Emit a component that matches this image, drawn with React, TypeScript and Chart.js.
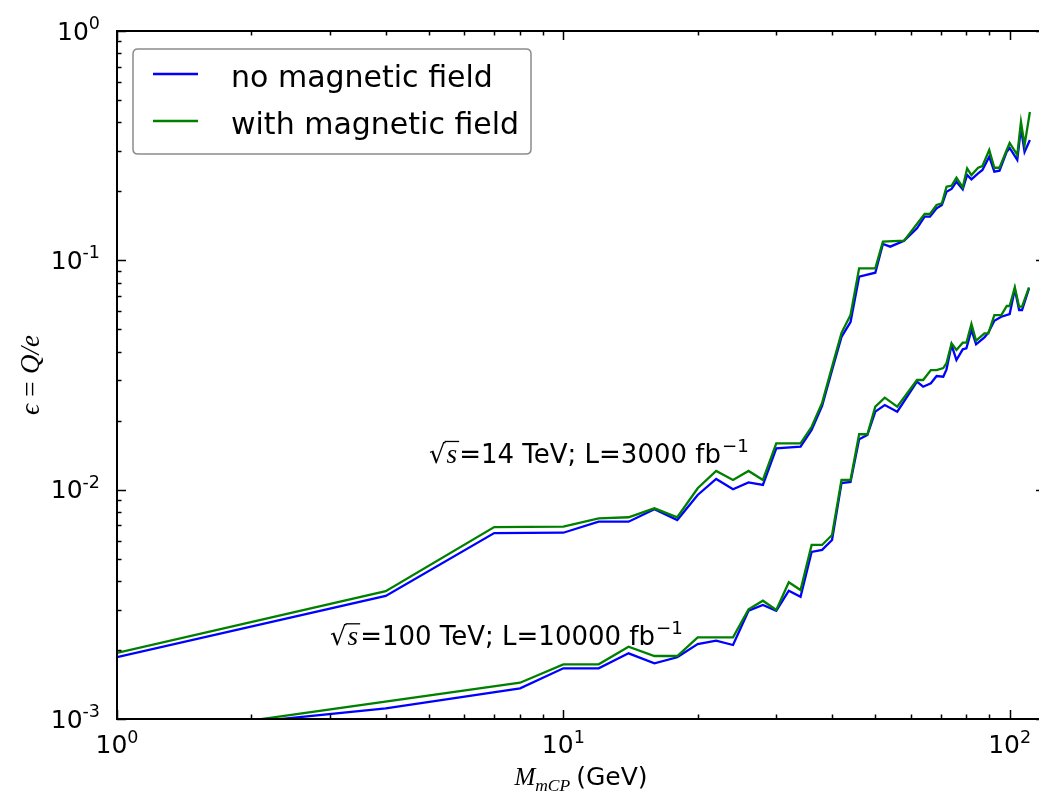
import React, { useEffect, useRef } from "react";
import { Chart, registerables } from "chart.js";

Chart.register(...registerables);

// ---------------- data ----------------
// sqrt(s) = 14 TeV, L = 3000 fb^-1
const MASS_14_NOFIELD = [1, 4, 7, 10, 12, 14, 16, 18, 20, 22, 24, 26, 28, 30, 34, 36, 38, 40, 42, 44, 46, 50, 52, 54, 58, 62, 64.5, 66.3, 68.6, 70.5, 72.2, 74.1, 76, 78.5, 80.3, 82.1, 85, 86.9, 90, 92.4, 94.9, 98.5, 100, 104, 106, 108, 111];
const EPS_14_NOFIELD = [1.86e-3, 3.44e-3, 6.47e-3, 6.49e-3, 7.25e-3, 7.25e-3, 8.21e-3, 7.37e-3, 9.48e-3, 1.113e-2, 1.004e-2, 1.076e-2, 1.048e-2, 1.515e-2, 1.539e-2, 1.82e-2, 2.32e-2, 3.32e-2, 4.63e-2, 5.38e-2, 0.0848, 0.0883, 0.1178, 0.1147, 0.1218, 0.1379, 0.155, 0.155, 0.1686, 0.1743, 0.1991, 0.2047, 0.2202, 0.204, 0.2355, 0.2256, 0.2396, 0.2476, 0.2831, 0.2434, 0.2459, 0.2977, 0.3089, 0.2739, 0.3776, 0.2968, 0.3347];
const MASS_14_FIELD = [1, 4, 7, 10, 12, 14, 16, 18, 20, 22, 24, 26, 28, 30, 34, 36, 38, 40, 42, 44, 46, 50, 52, 58, 64.5, 66.3, 68.6, 70.5, 72.2, 74.1, 76, 78.5, 80.3, 82.1, 85, 86.9, 90, 92.4, 94.9, 98.5, 100, 104, 106, 108, 111];
const EPS_14_FIELD = [1.94e-3, 3.61e-3, 6.87e-3, 6.9e-3, 7.5e-3, 7.58e-3, 8.29e-3, 7.58e-3, 1.014e-2, 1.207e-2, 1.102e-2, 1.207e-2, 1.102e-2, 1.593e-2, 1.593e-2, 1.88e-2, 2.39e-2, 3.43e-2, 4.82e-2, 5.78e-2, 0.0923, 0.0923, 0.1206, 0.1218, 0.1592, 0.1592, 0.1743, 0.1773, 0.2094, 0.2115, 0.2292, 0.2082, 0.2519, 0.2355, 0.2534, 0.2578, 0.3029, 0.2534, 0.2534, 0.3029, 0.3248, 0.288, 0.4012, 0.3183, 0.4433];

// sqrt(s) = 100 TeV, L = 10000 fb^-1
const MASS_100_NOFIELD = [2, 4, 8, 10, 12, 14, 16, 18, 20, 22, 24, 26, 28, 30, 32, 34, 36, 38, 40, 42, 44, 46, 48, 50, 52.5, 56, 62, 64, 66.6, 68.6, 71, 72.2, 74.1, 76, 78.5, 80, 82.1, 84.1, 87.8, 89.6, 92.4, 95.8, 100, 102.7, 105, 106.6, 110.5];
const EPS_100_NOFIELD = [0.97e-3, 1.113e-3, 1.361e-3, 1.664e-3, 1.664e-3, 1.934e-3, 1.749e-3, 1.858e-3, 2.123e-3, 2.195e-3, 2.102e-3, 2.966e-3, 3.142e-3, 2.966e-3, 3.625e-3, 3.41e-3, 5.35e-3, 5.46e-3, 6.03e-3, 1.069e-2, 1.08e-2, 1.658e-2, 1.731e-2, 2.188e-2, 2.339e-2, 2.188e-2, 2.956e-2, 2.812e-2, 2.909e-2, 3.13e-2, 3.109e-2, 3.347e-2, 4.273e-2, 3.676e-2, 4.093e-2, 4.134e-2, 4.968e-2, 4.304e-2, 4.617e-2, 4.835e-2, 5.453e-2, 5.676e-2, 5.834e-2, 7.474e-2, 6.072e-2, 6.072e-2, 7.55e-2];
const MASS_100_FIELD = [2, 8, 10, 12, 14, 16, 18, 20, 22, 24, 26, 28, 30, 32, 34, 36, 38, 40, 42, 44, 46, 48, 50, 52.5, 56, 62, 64, 66.6, 68.6, 71, 72.2, 74.1, 76, 78.5, 80, 82.1, 84.1, 87.8, 89.6, 92.4, 95.8, 98.5, 100, 102.7, 105, 106.6, 110.5];
const EPS_100_FIELD = [0.985e-3, 1.439e-3, 1.731e-3, 1.731e-3, 2.067e-3, 1.882e-3, 1.882e-3, 2.271e-3, 2.271e-3, 2.271e-3, 3.008e-3, 3.28e-3, 2.987e-3, 3.945e-3, 3.65e-3, 5.74e-3, 5.74e-3, 6.34e-3, 1.102e-2, 1.102e-2, 1.744e-2, 1.744e-2, 2.3e-2, 2.518e-2, 2.3e-2, 3.007e-2, 3.007e-2, 3.324e-2, 3.324e-2, 3.392e-2, 3.567e-2, 4.346e-2, 4.064e-2, 4.373e-2, 4.373e-2, 5.279e-2, 4.462e-2, 4.806e-2, 4.806e-2, 5.774e-2, 5.774e-2, 6.323e-2, 6.323e-2, 7.626e-2, 6.279e-2, 6.279e-2, 7.626e-2];

// axes / text
const X_MIN = 1;
const X_MAX = 120;
const Y_MIN = 1e-3;
const Y_MAX = 1;
const X_MAJOR_TICKS = [1, 10, 100];
const X_TICK_EXPONENTS = ["0", "1", "2"];
const Y_MAJOR_TICKS = [1e-3, 1e-2, 1e-1, 1];
const Y_TICK_EXPONENTS = ["-3", "-2", "-1", "0"];
const LEGEND_LABELS = ["no magnetic field", "with magnetic field"];
const LEGEND_COLORS = ["#0000ff", "#008000"];
const ANNOT_ENERGIES = ["14", "100"];
const ANNOT_LUMIS = ["3000", "10000"];
const ANNOT_X = [5, 3];
const ANNOT_Y = [0.0131, 0.0021];
const X_LABEL_VAR = "M";
const X_LABEL_SUB = "mCP";
const X_LABEL_UNIT = "(GeV)";
const Y_LABEL_PARTS = ["\u03f5", "=", "Q/e"];

const SANS = '"DejaVu Sans", sans-serif';
const SERIF = '"Liberation Serif", "DejaVu Serif", serif';

const toXY = (xs: number[], ys: number[]) => xs.map((x, i) => ({ x, y: ys[i] }));

function drawPower(ctx: CanvasRenderingContext2D, exp: string, x: number, y: number, size: number, align: "center" | "right") {
  ctx.textAlign = "left";
  ctx.textBaseline = "alphabetic";
  ctx.font = `${size}px ${SANS}`;
  const wb = ctx.measureText("10").width;
  const ss = size * 0.7;
  ctx.font = `${ss}px ${SANS}`;
  const we = ctx.measureText(exp).width;
  const total = wb + we;
  const left = align === "center" ? x - total / 2 : x - total;
  ctx.font = `${size}px ${SANS}`;
  ctx.fillText("10", left, y);
  ctx.font = `${ss}px ${SANS}`;
  ctx.fillText(exp, left + wb, y - size * 0.42);
}

function drawAnnot(ctx: CanvasRenderingContext2D, x: number, y: number, energy: string, lumi: string, size: number) {
  ctx.textAlign = "left";
  ctx.textBaseline = "alphabetic";
  let cx = x;
  ctx.font = `${size}px ${SANS}`;
  const rm = ctx.measureText("\u221a");
  ctx.fillText("\u221a", cx, y);
  const top = y - rm.actualBoundingBoxAscent;
  cx += rm.width;
  ctx.font = `italic ${size * 1.05}px ${SERIF}`;
  const ws = ctx.measureText("s").width;
  ctx.fillText("s", cx + 1, y);
  ctx.lineWidth = 1.3;
  ctx.strokeStyle = "#000";
  ctx.beginPath();
  ctx.moveTo(cx - 1, top + 0.7);
  ctx.lineTo(cx + ws + 3, top + 0.7);
  ctx.stroke();
  cx += ws + 3;
  ctx.font = `${size}px ${SANS}`;
  const main = `=${energy} TeV; L=${lumi} fb`;
  ctx.fillText(main, cx, y);
  cx += ctx.measureText(main).width;
  ctx.font = `${size * 0.7}px ${SANS}`;
  ctx.fillText("\u22121", cx + 1, y - size * 0.42);
}

const decorPlugin = {
  id: "decor",
  afterDraw(chart: any) {
    const ctx: CanvasRenderingContext2D = chart.ctx;
    const xs = chart.scales.x;
    const ys = chart.scales.y;
    const { left, right, top, bottom } = chart.chartArea;
    ctx.save();
    ctx.fillStyle = "#000";
    ctx.strokeStyle = "#000";

    // ticks (inside, all four sides)
    const majLen = 9;
    const minLen = 4.5;
    ctx.lineWidth = 1.5;
    const xTicks: [number, number][] = [];
    const yTicks: [number, number][] = [];
    for (let d = 1; d <= 100; d *= 10) {
      for (let m = 1; m <= 9; m++) {
        const v = d * m;
        if (v >= X_MIN && v <= X_MAX) xTicks.push([v, m === 1 ? majLen : minLen]);
      }
    }
    for (let d = 1e-3; d <= 1.0001; d *= 10) {
      for (let m = 1; m <= 9; m++) {
        const v = d * m;
        if (v >= Y_MIN * 0.999 && v <= Y_MAX * 1.0001) yTicks.push([v, m === 1 ? majLen : minLen]);
      }
    }
    ctx.beginPath();
    for (const [v, len] of xTicks) {
      const px = Math.round(xs.getPixelForValue(v)) + 0.5;
      ctx.moveTo(px, bottom);
      ctx.lineTo(px, bottom - len);
      ctx.moveTo(px, top);
      ctx.lineTo(px, top + len);
    }
    for (const [v, len] of yTicks) {
      const py = Math.round(ys.getPixelForValue(v)) + 0.5;
      ctx.moveTo(left, py);
      ctx.lineTo(left + len, py);
      ctx.moveTo(right, py);
      ctx.lineTo(right - len, py);
    }
    ctx.stroke();

    // spines
    ctx.lineWidth = 2;
    ctx.strokeRect(left, top, right - left, bottom - top);

    // tick labels
    X_MAJOR_TICKS.forEach((v, i) => {
      drawPower(ctx, X_TICK_EXPONENTS[i], xs.getPixelForValue(v), bottom + 34, 25, "center");
    });
    Y_MAJOR_TICKS.forEach((v, i) => {
      drawPower(ctx, Y_TICK_EXPONENTS[i], left - 17, ys.getPixelForValue(v) + 8.5, 25, "right");
    });

    // x label
    {
      const size = 25;
      ctx.font = `italic ${size}px ${SERIF}`;
      const wM = ctx.measureText(X_LABEL_VAR).width;
      ctx.font = `italic ${size * 0.7}px ${SERIF}`;
      const wSub = ctx.measureText(X_LABEL_SUB).width;
      ctx.font = `${size}px ${SANS}`;
      const wUnit = ctx.measureText(X_LABEL_UNIT).width;
      const gap = 6;
      const total = wM + wSub + gap + wUnit;
      let cx = (left + right) / 2 - total / 2;
      const base = 785;
      ctx.textAlign = "left";
      ctx.textBaseline = "alphabetic";
      ctx.font = `italic ${size}px ${SERIF}`;
      ctx.fillText(X_LABEL_VAR, cx, base);
      cx += wM;
      ctx.font = `italic ${size * 0.7}px ${SERIF}`;
      ctx.fillText(X_LABEL_SUB, cx, base + 6);
      cx += wSub + gap;
      ctx.font = `${size}px ${SANS}`;
      ctx.fillText(X_LABEL_UNIT, cx, base);
    }

    // y label
    {
      const size = 27;
      const space = size * 0.28;
      ctx.save();
      ctx.translate(39, (top + bottom) / 2);
      ctx.rotate(-Math.PI / 2);
      const fonts = [`italic ${size}px ${SERIF}`, `${size}px ${SERIF}`, `italic ${size}px ${SERIF}`];
      const widths = Y_LABEL_PARTS.map((p, i) => {
        ctx.font = fonts[i];
        return ctx.measureText(p).width;
      });
      const total = widths.reduce((a, b) => a + b, 0) + 2 * space;
      let cx = -total / 2;
      ctx.textAlign = "left";
      ctx.textBaseline = "alphabetic";
      Y_LABEL_PARTS.forEach((p, i) => {
        ctx.font = fonts[i];
        ctx.fillText(p, cx, 0);
        cx += widths[i] + (i < Y_LABEL_PARTS.length - 1 ? space : 0);
      });
      ctx.restore();
    }

    // annotations
    ANNOT_ENERGIES.forEach((e, i) => {
      drawAnnot(ctx, xs.getPixelForValue(ANNOT_X[i]), ys.getPixelForValue(ANNOT_Y[i]), e, ANNOT_LUMIS[i], 26);
    });

    // legend
    {
      const bx = 133, by = 49, bw = 398, bh = 105, r = 5;
      ctx.beginPath();
      ctx.moveTo(bx + r, by);
      ctx.lineTo(bx + bw - r, by);
      ctx.quadraticCurveTo(bx + bw, by, bx + bw, by + r);
      ctx.lineTo(bx + bw, by + bh - r);
      ctx.quadraticCurveTo(bx + bw, by + bh, bx + bw - r, by + bh);
      ctx.lineTo(bx + r, by + bh);
      ctx.quadraticCurveTo(bx, by + bh, bx, by + bh - r);
      ctx.lineTo(bx, by + r);
      ctx.quadraticCurveTo(bx, by, bx + r, by);
      ctx.closePath();
      ctx.fillStyle = "#fff";
      ctx.fill();
      ctx.strokeStyle = "#8c8c8c";
      ctx.lineWidth = 1.5;
      ctx.stroke();
      const rowsY = [74, 121];
      LEGEND_LABELS.forEach((lab, i) => {
        ctx.strokeStyle = LEGEND_COLORS[i];
        ctx.lineWidth = 2.3;
        ctx.beginPath();
        ctx.moveTo(153, rowsY[i]);
        ctx.lineTo(198, rowsY[i]);
        ctx.stroke();
        ctx.fillStyle = "#000";
        ctx.font = `30px ${SANS}`;
        ctx.textAlign = "left";
        ctx.textBaseline = "alphabetic";
        ctx.fillText(lab, 231, rowsY[i] + 12.8);
      });
    }
    ctx.restore();
  },
};

export default function App() {
  const ref = useRef<HTMLCanvasElement | null>(null);
  useEffect(() => {
    const canvas = ref.current;
    if (!canvas) return;
    const common = { pointRadius: 0, borderWidth: 2.3, tension: 0, fill: false, clip: 0 } as any;
    const chart = new Chart(canvas, {
      type: "line",
      data: {
        datasets: [
          { label: LEGEND_LABELS[1], data: toXY(MASS_14_FIELD, EPS_14_FIELD), borderColor: LEGEND_COLORS[1], ...common },
          { label: LEGEND_LABELS[1], data: toXY(MASS_100_FIELD, EPS_100_FIELD), borderColor: LEGEND_COLORS[1], ...common },
          { label: LEGEND_LABELS[0], data: toXY(MASS_14_NOFIELD, EPS_14_NOFIELD), borderColor: LEGEND_COLORS[0], ...common },
          { label: LEGEND_LABELS[0], data: toXY(MASS_100_NOFIELD, EPS_100_NOFIELD), borderColor: LEGEND_COLORS[0], ...common },
        ],
      },
      options: {
        animation: false,
        responsive: false,
        devicePixelRatio: 1,
        events: [],
        layout: { padding: { left: 0, right: 5, top: 31, bottom: 0 } },
        plugins: { legend: { display: false }, tooltip: { enabled: false } },
        scales: {
          x: {
            type: "logarithmic",
            min: X_MIN,
            max: X_MAX,
            grid: { display: false },
            border: { display: false },
            ticks: { display: false },
            afterFit: (s: any) => {
              s.height = 75;
            },
          },
          y: {
            type: "logarithmic",
            min: Y_MIN,
            max: Y_MAX,
            grid: { display: false },
            border: { display: false },
            ticks: { display: false },
            afterFit: (s: any) => {
              s.width = 117;
            },
          },
        },
      } as any,
      plugins: [decorPlugin as any],
    });
    return () => chart.destroy();
  }, []);
  return (
    <div style={{ position: "absolute", left: 0, top: 0, width: 1039, height: 794, overflow: "hidden", background: "#fff" }}>
      <canvas ref={ref} width={1050} height={794} style={{ width: 1050, height: 794, display: "block" }} />
    </div>
  );
}
